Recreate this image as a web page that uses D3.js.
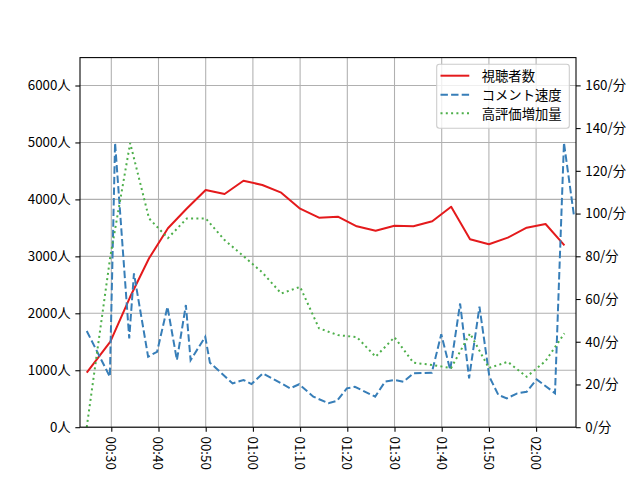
<!DOCTYPE html>
<html><head><meta charset="utf-8">
<script src="https://cdn.jsdelivr.net/npm/d3@7"></script>
<style>
html,body{margin:0;padding:0;background:#fff;}
text{font-family:"Noto Sans CJK JP","DejaVu Sans",sans-serif;}
</style></head>
<body>
<svg id="chart" width="640" height="480"></svg>
<script>
// ---- data (time in minutes after 00:00) ----
const viewerTimes = [24.8, 29.8, 34, 38, 42, 46, 50, 54, 58, 62, 66, 70, 74, 78, 82, 86, 90, 94, 98, 102, 106, 110, 114, 118, 122, 126];
const viewers = [957, 1501, 2290, 2966, 3493, 3840, 4165, 4095, 4328, 4253, 4118, 3837, 3679, 3696, 3528, 3450, 3538, 3528, 3615, 3872, 3299, 3212, 3328, 3503, 3568, 3194];
const likeGain = [0, 80, 133, 97.7, 88.5, 97.7, 97.7, 87.6, 80.1, 72.4, 62.6, 65.7, 46.3, 43.1, 42.2, 33.0, 42.1, 30.2, 29.1, 27.7, 43.9, 27.7, 30.6, 23.6, 31.0, 43.9];
const commentTimes = [24.8, 29.7, 30.8, 33.8, 34.8, 37.8, 39.7, 41.9, 43.9, 45.8, 46.8, 49.9, 50.9, 55.7, 58.0, 59.7, 62.1, 67.9, 69.8, 72.8, 76.0, 77.8, 79.9, 81.6, 85.9, 88.0, 90.1, 91.9, 94.0, 97.9, 99.9, 101.8, 103.9, 105.8, 108.0, 110.1, 112.0, 113.8, 116.0, 118.0, 120.1, 124.0, 125.9, 128.0];
const commentRate = [45.0, 23.6, 133.1, 41.6, 72.0, 33.0, 35.3, 56.4, 31.4, 57.2, 31.4, 42.3, 30.2, 20.5, 22.1, 20.2, 25.2, 18.2, 20.1, 14.3, 11.2, 12.3, 18.2, 18.9, 14.3, 21.3, 22.1, 21.3, 25.2, 25.5, 43.5, 26.8, 57.9, 22.9, 56.4, 23.6, 15.1, 13.5, 15.8, 16.6, 22.4, 15.9, 133.1, 99.3];
const xTickMinutes = [30, 40, 50, 60, 70, 80, 90, 100, 110, 120];
const xTickLabels = ["00:30", "00:40", "00:50", "01:00", "01:10", "01:20", "01:30", "01:40", "01:50", "02:00"];
const leftTicks = [0, 1000, 2000, 3000, 4000, 5000, 6000];
const rightTicks = [0, 20, 40, 60, 80, 100, 120, 140, 160];
const seriesNames = ["視聴者数", "コメント速度", "高評価増加量"];
const colors = ["#e41a1c", "#377eb8", "#4daf4a"];

// ---- layout ----
const L = 80, R = 576, T = 57.6, B = 427.2;
const svg = d3.select("#chart");
const x = d3.scaleLinear().domain([23.37, 128.45]).range([L, R]);
const yL = d3.scaleLinear().domain([0, 6490]).range([B, T]);
const yR = d3.scaleLinear().domain([0, 173]).range([B, T]);

svg.append("defs").append("clipPath").attr("id", "clip")
  .append("rect").attr("x", L).attr("y", T).attr("width", R - L).attr("height", B - T);

// grid
const grid = svg.append("g");
grid.selectAll(".gx").data(xTickMinutes).enter().append("line")
  .attr("x1", d => x(d)).attr("x2", d => x(d)).attr("y1", T).attr("y2", B)
  .attr("stroke", "#b0b0b0").attr("stroke-width", 1.07);
grid.selectAll(".gy").data(leftTicks).enter().append("line")
  .attr("x1", L).attr("x2", R).attr("y1", d => yL(d)).attr("y2", d => yL(d))
  .attr("stroke", "#b0b0b0").attr("stroke-width", 1.07);

// lines
const plot = svg.append("g").attr("clip-path", "url(#clip)");
const lineV = d3.line().x((d, i) => x(viewerTimes[i])).y(d => yL(d));
const lineC = d3.line().x((d, i) => x(commentTimes[i])).y(d => yR(d));
const lineG = d3.line().x((d, i) => x(viewerTimes[i])).y(d => yR(d));
plot.append("path").attr("d", lineV(viewers)).attr("fill", "none")
  .attr("stroke", colors[0]).attr("stroke-width", 2).attr("stroke-linejoin", "round");
plot.append("path").attr("d", lineC(commentRate)).attr("fill", "none")
  .attr("stroke", colors[1]).attr("stroke-width", 2).attr("stroke-dasharray", "7.4,3.2");
plot.append("path").attr("d", lineG(likeGain)).attr("fill", "none")
  .attr("stroke", colors[2]).attr("stroke-width", 2).attr("stroke-dasharray", "2,3.3");

// axes
const fs = 13.33;
const axL = svg.append("g").attr("transform", `translate(${L},0)`)
  .call(d3.axisLeft(yL).tickValues(leftTicks).tickSize(4.67).tickPadding(4.67).tickFormat(d => d + "人"));
const axR = svg.append("g").attr("transform", `translate(${R},0)`)
  .call(d3.axisRight(yR).tickValues(rightTicks).tickSize(4.67).tickPadding(4.67).tickFormat(d => d + "/分"));
const axB = svg.append("g").attr("transform", `translate(0,${B})`)
  .call(d3.axisBottom(x).tickValues(xTickMinutes).tickSize(4.67).tickFormat((d, i) => xTickLabels[i]));
[axL, axR, axB].forEach(a => {
  a.select(".domain").remove();
  a.selectAll("line").attr("stroke", "#000").attr("stroke-width", 1.07);
  a.selectAll("text").attr("font-size", fs).attr("fill", "#000")
    .style("font-family", '"Noto Sans CJK JP","DejaVu Sans",sans-serif');
});
axB.selectAll("text")
  .attr("y", 0).attr("dy", null)
  .attr("text-anchor", "start").attr("dominant-baseline", "central")
  .attr("transform", "translate(0,9.3) rotate(90)");

// spines
svg.append("rect").attr("x", L).attr("y", T).attr("width", R - L).attr("height", B - T)
  .attr("fill", "none").attr("stroke", "#000").attr("stroke-width", 1.07);

// legend
const lg = svg.append("g");
lg.append("rect").attr("x", 436.7).attr("y", 64.3).attr("width", 132.6).attr("height", 64)
  .attr("rx", 2.7).attr("fill", "#fff").attr("fill-opacity", 0.8)
  .attr("stroke", "#cccccc").attr("stroke-width", 1.07);
const rowsY = [75.7, 94.7, 113.3];
const dashes = [null, "7.4,3.2", "2,3.3"];
seriesNames.forEach((n, i) => {
  lg.append("line").attr("x1", 440.5).attr("x2", 469.3).attr("y1", rowsY[i]).attr("y2", rowsY[i])
    .attr("stroke", colors[i]).attr("stroke-width", 2).attr("stroke-dasharray", dashes[i]);
  lg.append("text").attr("x", 481.7).attr("y", rowsY[i]).attr("dominant-baseline", "central")
    .attr("font-size", fs).attr("fill", "#000").text(n);
});
</script>
</body></html>
